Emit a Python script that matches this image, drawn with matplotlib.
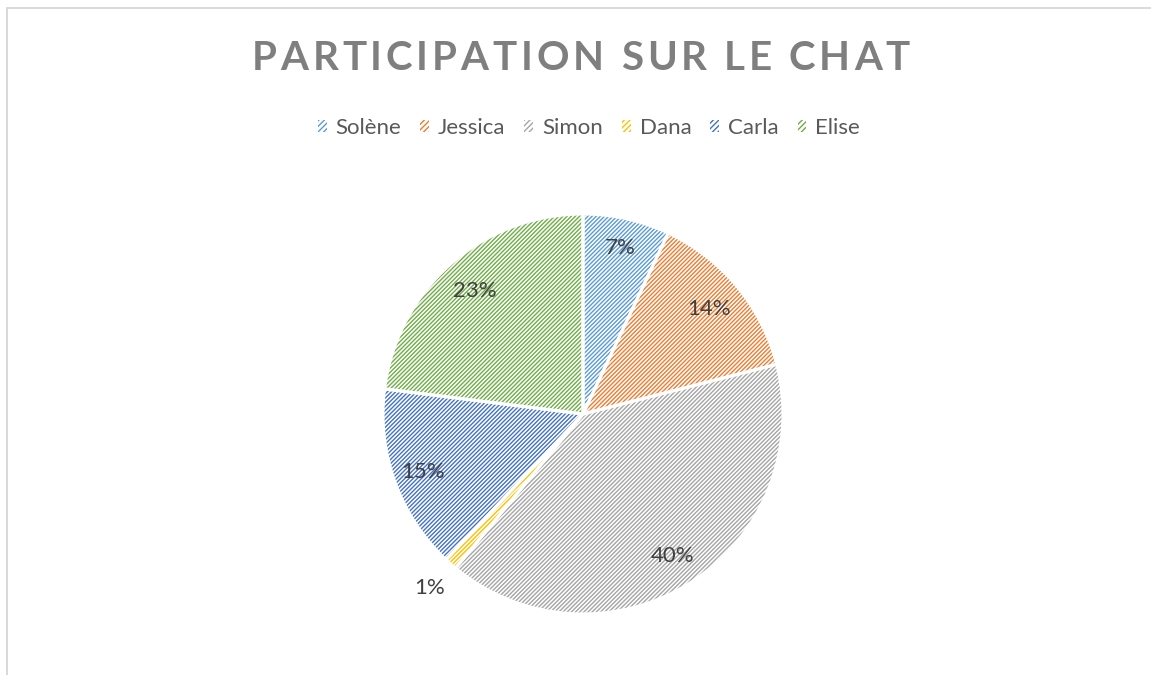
import numpy as np
import matplotlib
matplotlib.use("Agg")
import matplotlib.pyplot as plt
from matplotlib.patches import Patch
from matplotlib.lines import Line2D

plt.rcParams["font.family"] = ["Lato", "DejaVu Sans"]
plt.rcParams["hatch.linewidth"] = 1.0

names = ["Solène", "Jessica", "Simon", "Dana", "Carla", "Elise"]
shares = [7, 14, 40, 1, 15, 23]
colors = ["#5B9BD5", "#ED7D31", "#A5A5A5", "#FFC000", "#4472C4", "#70AD47"]
title = "PARTICIPATION SUR LE CHAT"

W, H = 1151, 675
fig = plt.figure(figsize=(W / 100, H / 100), dpi=100)

# pie axes: centre (583, 414) px, radius 200 px
cx, cy, r = 583, H - 414, 200
ax = fig.add_axes([(cx - r) / W, (cy - r) / H, 2 * r / W, 2 * r / H])
ax.axis("off")

hatch = "////////"
wedges, _ = ax.pie(shares, startangle=90, counterclock=False, radius=1,
                   wedgeprops=dict(linewidth=0))
for w, c in zip(wedges, colors):
    w.set_facecolor("white")
    w.set_edgecolor(c)
    w.set_hatch(hatch)
    w.set_linewidth(0)

# white separators on top
ax.pie(shares, startangle=90, counterclock=False, radius=1,
       wedgeprops=dict(facecolor="none", edgecolor="white", linewidth=2.2))
ax.set_xlim(-1, 1)
ax.set_ylim(-1, 1)
ax.set_aspect("equal")

# percentage labels
label_dist = [0.85, 0.82, 0.84, 1.16, 0.85, 0.82]
for w, s, d in zip(wedges, shares, label_dist):
    ang = np.deg2rad((w.theta1 + w.theta2) / 2)
    ax.text(d * np.cos(ang), d * np.sin(ang), f"{s}%", ha="center", va="center",
            fontsize=16, color="#404040")

# title with letter spacing
renderer = fig.canvas.get_renderer()
tsize, tcolor, ty = 29, "#7F7F7F", 1 - 58 / H
def text_w(s):
    if not s:
        return 0.0
    t = fig.text(0, 0, s, fontsize=tsize, fontweight="bold")
    wpx = t.get_window_extent(renderer).width
    t.remove()
    return wpx
natural = text_w(title)
target = 910 - 252
track = (target - natural) / (len(title) - 1)
x0 = 252
for i, ch in enumerate(title):
    xpos = x0 + text_w(title[:i]) + i * track
    fig.text(xpos / W, ty, ch, fontsize=tsize, fontweight="bold",
             color=tcolor, ha="left", va="center")

# legend
handles = [Patch(facecolor="white", edgecolor=c, hatch="//////", linewidth=0,
                 label=n) for n, c in zip(names, colors)]
fig.legend(handles=handles, loc="center", bbox_to_anchor=(589 / W, 1 - 128 / H),
           ncol=6, frameon=False, fontsize=16, labelcolor="#595959",
           handlelength=0.4, handleheight=0.4, handletextpad=0.4,
           columnspacing=0.85)

# chart frame (top and left edges visible)
fc = "#D9D9D9"
fig.add_artist(Line2D([7.5 / W, 7.5 / W], [0, 1 - 8 / H], color=fc, lw=1.4))
fig.add_artist(Line2D([7.5 / W, 1], [1 - 8 / H, 1 - 8 / H], color=fc, lw=1.4))

fig.savefig("out.png", dpi=100, facecolor="white")
